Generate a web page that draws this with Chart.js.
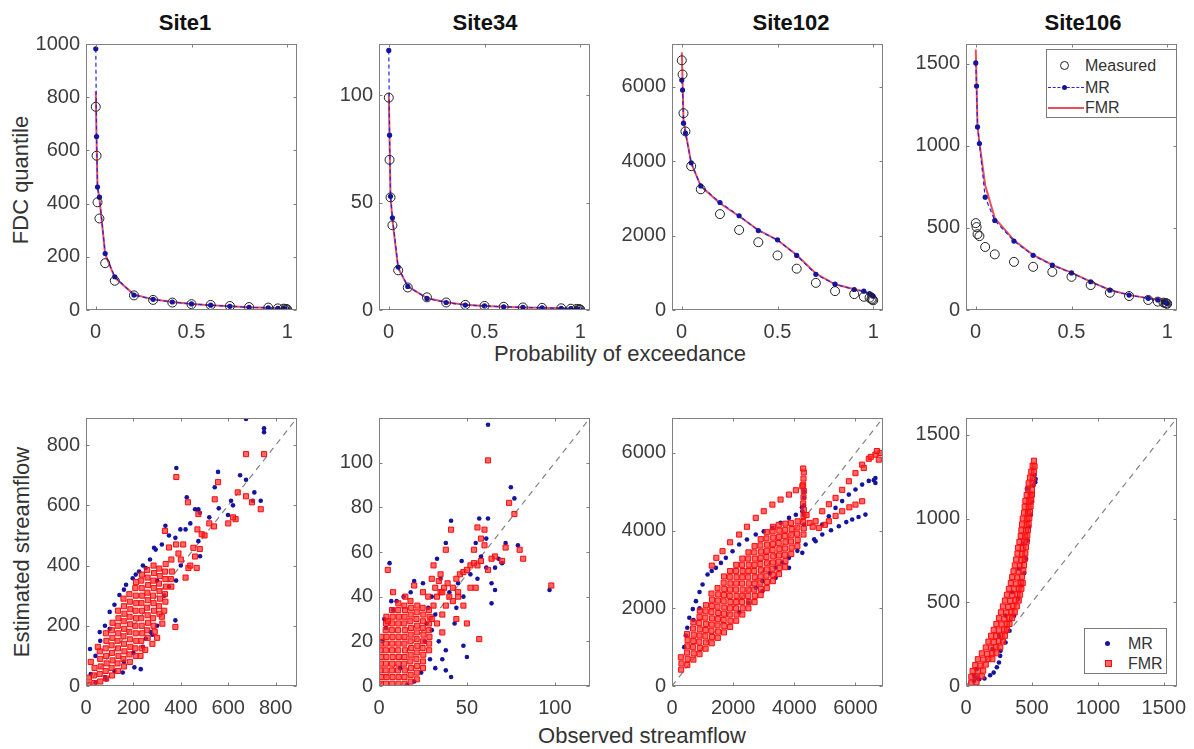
<!DOCTYPE html>
<html>
<head>
<meta charset="utf-8">
<script src="https://cdn.jsdelivr.net/npm/chart.js@4.4.0/dist/chart.umd.min.js"></script>
<style>
  body { margin: 0; width: 1194px; height: 749px; background: #fff; position: relative; overflow: hidden;
         font-family: "Liberation Sans", Arial, sans-serif; }
  canvas { position: absolute; }
  .title { position: absolute; top: 12px; font-size: 22px; line-height: 1; font-weight: bold; color: #111;
           transform: translateX(-50%); white-space: nowrap; }
  .xlab { position: absolute; font-size: 22px; line-height: 1; color: #333; transform: translateX(-50%); white-space: nowrap; }
  .ylab { position: absolute; font-size: 22px; line-height: 1; color: #333; white-space: nowrap;
          transform: translate(-50%, -50%) rotate(-90deg); }
  .legend { position: absolute; border: 1px solid #7a7a7a; background: #fff; box-sizing: border-box; }
  .legend span { position: absolute; }
  .legend .txt { font-size: 16px; line-height: 1; color: #333; }
</style>
</head>
<body>
<div class="title" style="left:185px">Site1</div>
<div class="title" style="left:485px">Site34</div>
<div class="title" style="left:791px">Site102</div>
<div class="title" style="left:1083px">Site106</div>
<div class="ylab" style="left:21px;top:180px">FDC quantile</div>
<div class="ylab" style="left:22px;top:552px">Estimated streamflow</div>
<div class="xlab" style="left:620px;top:343px">Probability of exceedance</div>
<div class="xlab" style="left:642px;top:725px">Observed streamflow</div>

<script>
// ---- FDC quantiles (top row) ----
const probs = [0.001, 0.005, 0.01, 0.02, 0.05, 0.1, 0.2, 0.3, 0.4, 0.5, 0.6, 0.7, 0.8, 0.9, 0.95, 0.98, 0.99, 0.995, 0.999];

const site1Measured = [764, 580, 405, 344, 176, 110, 55, 38, 28, 22, 19, 15, 11, 9, 6, 5, 4, 3, 2];
const site1MR = [982, 652, 462, 424, 212, 125, 56, 40, 30, 23, 18, 14, 10, 8, 6, 5, 4, 3, 2];
const site1FMR = [822, 640, 460, 420, 210, 122, 58, 40, 30, 23, 18, 14, 10, 8, 6, 5, 4, 3, 2];

const site34Measured = [99, 70, 52.5, 39.5, 18.5, 10.5, 5.9, 3.5, 2.4, 1.9, 1.5, 1.2, 1.0, 0.8, 0.6, 0.5, 0.4, 0.3, 0.2];
const site34MR = [121, 81.5, 53, 43, 20, 11, 5.4, 3.5, 2.3, 1.9, 1.5, 1.2, 1.0, 0.8, 0.6, 0.5, 0.4, 0.3, 0.2];
const site34FMR = [101, 80, 53, 42, 19.5, 11, 5.6, 3.6, 2.4, 1.9, 1.5, 1.2, 1.0, 0.8, 0.6, 0.5, 0.4, 0.3, 0.2];

const site102Measured = [6712, 6330, 5290, 4800, 3867, 3245, 2578, 2151, 1822, 1467, 1111, 729, 507, 427, 356, 330, 300, 280, 260];
const site102MR = [6180, 5912, 5023, 4756, 3956, 3334, 2889, 2533, 2134, 1885, 1467, 960, 693, 551, 507, 440, 410, 390, 370];
const site102FMR = [6930, 6200, 5100, 4800, 3950, 3330, 2870, 2520, 2150, 1880, 1480, 980, 690, 560, 500, 440, 410, 390, 370];

const site106Measured = [529, 505, 462, 450, 384, 339, 293, 263, 232, 202, 152, 105, 85, 61, 51, 45, 42, 40, 38];
const site106MR = [1505, 1364, 1115, 1014, 687, 545, 420, 333, 273, 226, 172, 121, 91, 71, 61, 51, 45, 42, 40];
const site106FMR = [1586, 1380, 1120, 1020, 760, 560, 425, 335, 275, 228, 173, 122, 92, 72, 62, 52, 45, 42, 40];

const probTicks = [0, 0.5, 1];
const site1QTicks = [0, 200, 400, 600, 800, 1000];
const site34QTicks = [0, 50, 100];
const site102QTicks = [0, 2000, 4000, 6000];
const site106QTicks = [0, 500, 1000, 1500];

// ---- observed vs estimated streamflow (bottom row), [observed, estimated] ----
const site1ScatterMR = [
  [675,887],[751,856],[751,843],[675,685],[381,724],[557,711],[543,660],[612,615],[710,643],[703,615],[737,615],
  [599,568],[425,627],[460,587],[474,587],[335,532],[398,520],[377,492],[287,459],[474,481],[481,431],[377,218],
  [252,157],[273,179],[155,45],[204,62],[231,56],[17,123],[58,179],[100,190],[86,22],[100,246],[141,302],[197,358],
  [224,380],[252,392],[294,453],[169,336],[120,270],[160,320],[210,370],[240,400],[270,420],[320,470],[350,500],
  [420,520],[440,540],[480,575],[520,560],[620,600],[560,590],[650,700],[300,350],[330,300],[350,330],[380,350],
  [400,400],[300,200],[280,170],[240,130],[200,110],[160,80],[120,50],[80,30],[40,12],[20,40],[40,100],[60,150],[80,200]
];
const site1ScatterFMR = [
  [10,5],[12,28],[35,10],[33,35],[36,60],[60,15],[58,40],[62,65],[60,90],[58,115],
  [85,25],[83,50],[87,75],[85,100],[83,125],[86,150],[84,175],
  [110,35],[108,60],[112,85],[110,110],[108,135],[111,160],[109,185],[112,210],
  [135,50],[133,75],[137,100],[135,125],[133,150],[136,175],[134,200],[137,225],[135,250],
  [160,65],[158,90],[162,115],[160,140],[158,165],[161,190],[159,215],[162,240],[160,265],[158,290],
  [185,80],[183,105],[187,130],[185,155],[183,180],[186,205],[184,230],[187,255],[185,280],[183,305],
  [210,100],[208,125],[212,150],[210,175],[208,200],[211,225],[209,250],[212,275],[210,300],[208,325],[211,345],
  [235,125],[233,150],[237,175],[235,200],[233,225],[236,250],[234,275],[237,300],[235,325],[233,350],[236,370],
  [260,160],[258,185],[262,210],[260,235],[258,260],[261,285],[259,310],[262,335],[260,360],[258,385],
  [285,200],[283,225],[287,250],[285,275],[283,300],[286,325],[284,350],[287,375],[285,400],
  [310,240],[308,265],[312,290],[310,315],[308,340],[311,365],[309,390],
  [335,280],[333,305],[337,330],[335,355],[333,380],[336,405],[360,330],[358,355],[362,380],
  [381,694],[675,770],[751,770],[640,643],[675,630],[737,587],[631,554],[430,610],[474,571],[333,515],[488,504],
  [453,459],[432,392],[467,392],[377,196],[322,207],[557,677],[543,620],[600,540],[520,540],[470,520],[410,470],
  [390,440],[360,420],[420,360],[300,160],[250,120],[230,100],[280,140],[20,80],[50,130],[540,530],[620,560],
  [700,610],[480,455],[500,500],[350,460],[380,470],[400,420],[440,400],[460,430],[330,250],[320,230],[290,180]
];

const site34ScatterMR = [
  [62,117],[75,89],[77,84],[41,74],[57,75],[62,75],[61,66],[38,64],[55,64],[72,64],[79,63],[61,53],[68,57],[70,55],
  [66,53],[97,43],[64,37],[66,43],[50,13],[48,18],[41,4],[38,7],[38,16],[6,55],[7,38],[3,30],[33,57],[20,47],[25,46],
  [45,46],[35,48],[30,40],[28,35],[32,32],[40,42],[44,35],[48,40],[52,50],[26,20],[29,12],[24,6],[20,2],[16,0.5],
  [12,8],[30,25],[34,20],[27,28],[8,34],[4,26],[2,20],[10,38],[14,40],[18,42],[43,28],[36,12],[32,8],[58,58],
  [56,48],[64,46],[47,56]
];
const site34ScatterFMR = [
  [1,1],[1.2,4],[0.8,7],[1,10],[1.3,13],[0.9,16],[1,19],[1.2,22],
  [4,1],[4.3,4],[3.8,7],[4,10],[4.2,13],[3.9,16],[4,19],[4.3,22],[3.8,25],[4,28],[4.2,31],
  [7.5,1],[7.7,4],[7.3,7],[7.5,10],[7.8,13],[7.4,16],[7.5,19],[7.7,22],[7.3,25],[7.5,28],[7.8,31],[7.4,34],
  [11,1],[11.2,4],[10.8,7],[11,10],[11.3,13],[10.9,16],[11,19],[11.2,22],[10.8,25],[11,28],[11.3,31],[10.9,34],[11,37],
  [14.5,1],[14.5,4],[14.7,7],[14.3,10],[14.5,13],[14.8,16],[14.4,19],[14.5,22],[14.7,25],[14.3,28],[14.5,31],[14.8,34],[14.4,36],
  [18,2],[18,5],[18.2,8],[17.8,11],[18,14],[18.3,17],[17.9,20],[18,23],[18.2,26],[17.8,29],[18,32],[18.3,35],[17.9,38],
  [21.5,3],[21.5,6],[21.7,9],[21.3,12],[21.5,15],[21.8,18],[21.4,21],[21.5,24],[21.7,27],[21.3,30],[21.5,33],[21.8,36],
  [25,8],[25,11],[25.2,14],[24.8,17],[25,20],[25.3,23],[24.9,26],[25,29],[25.2,32],[24.8,35],
  [28.5,16],[28.5,19],[28.7,22],[28.3,25],[28.5,28],[28.8,31],[28.4,34],
  [31,36],[33,40],[35,42],[37,44],[39,46],[42,44],[44,48],[46,50],[48,51],[50,52],[52,54],[54,55],[56,54],[58,56],
  [32,44],[34,47],[36,42],[40,40],[45,42],[30,30],[33,28],[36,32],[38,36],[42,38],[30,48],[28,40],
  [62,101],[74,82],[77,77],[41,70],[56,71],[60,70],[58,66],[60,63],[38,61],[54,61],[72,62],[80,61],[82,57],[66,58],
  [98,45],[57,21],[5,52],[5,29],[31,54],[20,45],[35,50],[45,40],[48,36],[52,44],[62,52],[64,57],[70,56],[55,44],
  [25,42],[15,40],[8,42],[50,28],[44,30],[36,24]
];

const site102ScatterMR = [
  [565,1757],[680,1980],[783,2185],[900,2420],[1000,2614],[1163,2871],[1300,2960],[1435,3042],[1600,3170],[1761,3300],
  [1980,3470],[2196,3642],[2450,3770],[2739,3899],[3000,3980],[3283,4070],[3550,4200],[3826,4328],[4050,4410],[4261,4499],
  [4913,4156],[5130,4370],[5348,4585],[5565,4760],[5783,4928],[6000,5060],[6218,5185],[6435,5280],[6652,5356],[6652,5228],[6600,5300],
  [2739,2528],[2957,2700],[3200,2900],[3391,3050],[3600,3180],[3826,3300],[4100,3480],[4370,3642],[4650,3780],[4913,3899],
  [5200,4010],[5457,4113],[5700,4220],[5892,4285],[6100,4350],[6326,4413],
  [2957,2442],[3391,2785],[3826,3042],[4261,3428],[4696,3728],[2500,2150],[2200,1900],
  [4315,4156],[4315,4400],[4315,4650],[4315,4850],[4315,5013],[4250,4600],
  [400,1000],[450,1300],[500,1500],[700,1700],[900,2000]
];
const site102ScatterFMR = [
  [300,420],[310,580],[290,740],
  [500,540],[510,700],[490,860],[500,1020],[510,1180],[490,1340],
  [700,680],[710,840],[690,1000],[700,1160],[710,1320],[690,1480],[700,1640],
  [900,820],[910,980],[890,1140],[900,1300],[910,1460],[890,1620],[900,1780],[910,1940],
  [1100,960],[1110,1120],[1090,1280],[1100,1440],[1110,1600],[1090,1760],[1100,1920],[1110,2080],
  [1300,1100],[1310,1260],[1290,1420],[1300,1580],[1310,1740],[1290,1900],[1300,2060],[1310,2220],[1290,2380],
  [1500,1240],[1510,1400],[1490,1560],[1500,1720],[1510,1880],[1490,2040],[1500,2200],[1510,2360],[1490,2520],
  [1700,1380],[1710,1540],[1690,1700],[1700,1860],[1710,2020],[1690,2180],[1700,2340],[1710,2500],[1690,2660],[1700,2820],
  [1900,1520],[1910,1680],[1890,1840],[1900,2000],[1910,2160],[1890,2320],[1900,2480],[1910,2640],[1890,2800],[1900,2960],
  [2100,1680],[2110,1840],[2090,2000],[2100,2160],[2110,2320],[2090,2480],[2100,2640],[2110,2800],[2090,2960],[2100,3120],
  [2300,1840],[2310,2000],[2290,2160],[2300,2320],[2310,2480],[2290,2640],[2300,2800],[2310,2960],[2290,3120],[2300,3280],
  [2500,2000],[2510,2160],[2490,2320],[2500,2480],[2510,2640],[2490,2800],[2500,2960],[2510,3120],[2490,3280],[2500,3440],
  [2700,2160],[2710,2320],[2690,2480],[2700,2640],[2710,2800],[2690,2960],[2700,3120],[2710,3280],[2690,3440],[2700,3600],
  [2900,2340],[2910,2500],[2890,2660],[2900,2820],[2910,2980],[2890,3140],[2900,3300],[2910,3460],[2890,3620],[2900,3780],
  [3100,2520],[3110,2680],[3090,2840],[3100,3000],[3110,3160],[3090,3320],[3100,3480],[3110,3640],[3090,3800],[3100,3960],
  [3300,2700],[3310,2860],[3290,3020],[3300,3180],[3310,3340],[3290,3500],[3300,3660],[3310,3820],[3290,3980],[3300,4100],
  [3500,2880],[3510,3040],[3490,3200],[3500,3360],[3510,3520],[3490,3680],[3500,3840],[3510,4000],[3490,4150],
  [3700,3060],[3710,3220],[3690,3380],[3700,3540],[3710,3700],[3690,3860],[3700,4020],[3710,4180],
  [3900,3400],[3910,3560],[3890,3720],[3900,3880],[3910,4040],[3890,4200],
  [4100,3600],[4110,3760],[4090,3920],[4100,4080],[4110,4240],
  [4300,3900],[4310,4060],[4290,4220],[4300,4380],[4310,4540],[4290,4700],[4300,4860],[4310,5020],[4290,5180],
  [4300,5340],[4310,5500],[4290,5600],
  [1300,3100],[1450,3300],[1652,3471],[1900,3700],[2196,3899],[2450,4100],[2739,4328],[3000,4500],[3283,4671],
  [3550,4800],[3826,4928],[4050,5040],[4261,5142],
  [4696,4242],[4913,4499],[5130,4680],[5348,4842],[5565,5050],[5783,5271],[6000,5480],[6218,5699],[6435,5850],
  [6652,5956],[6815,5999],[6761,5828],[6272,5613],[6500,5900],[6700,6050],
  [4804,4071],[5000,4150],[5130,4242],[5350,4380],[5565,4499],[5800,4600],[6000,4671],[6218,4756],
  [4500,4200],[4600,4100],[4400,4400]
];

const site106ScatterMR = [
  [100,40],[140,45],[183,64],[210,80],[234,112],[250,140],[259,180],[262,210],[60,30],[80,50],
  [300,260],[330,330],[365,420],[395,520],[420,600],[442,674],[456,760],[468,868],[480,950],[492,1023],
  [500,1100],[512,1198],[528,1236],[462,1178],[487,1149],[525,1217],[520,1260],
  [200,220],[250,300],[300,420],[350,560],[400,700],[430,850],[60,60],[80,100]
];
const site106ScatterFMR = [
  [40,20],[80,22],[40,55],[80,52],[120,58],[50,90],[90,88],[130,92],[70,125],[110,122],[150,128],
  [90,160],[130,158],[170,162],[200,160],[120,195],[160,192],[200,198],[230,195],
  [150,230],[190,228],[230,232],[260,230],[170,265],[210,262],[250,268],[280,265],
  [190,300],[230,298],[270,302],[295,300],[210,335],[250,332],[290,338],[310,335],
  [230,370],[270,368],[310,372],[330,370],[250,405],[290,402],[330,408],[350,405],
  [265,440],[305,438],[345,442],[370,440],[280,475],[320,472],[360,478],[385,475],
  [295,510],[335,508],[375,512],[400,510],[310,545],[350,542],[390,548],[410,545],
  [325,580],[365,578],[400,582],[420,580],[340,615],[380,612],[415,618],[430,615],
  [350,650],[390,648],[425,652],[360,685],[400,682],[435,688],[370,720],[410,718],[440,722],
  [380,755],[420,752],[445,758],[390,790],[425,788],[450,792],[395,825],[430,822],[455,828],
  [405,860],[440,858],[460,862],[415,895],[450,892],[465,898],[420,930],[455,928],[470,932],
  [425,965],[460,962],[475,968],[430,1000],[465,998],[480,1002],[440,1035],[470,1032],[485,1038],
  [445,1070],[475,1068],[490,1072],[450,1105],[480,1102],[495,1108],[460,1140],[490,1138],[500,1142],
  [470,1175],[500,1172],[475,1210],[505,1208],[485,1245],[510,1242],[495,1280],[515,1278],
  [505,1315],[520,1312],[515,1345]
];

const site1FlowTicks = [0, 200, 400, 600, 800];
const site34FlowXTicks = [0, 50, 100];
const site34FlowYTicks = [0, 20, 40, 60, 80, 100];
const site102FlowTicks = [0, 2000, 4000, 6000];
const site106FlowTicks = [0, 500, 1000, 1500];

// ---- layout / styling ----
const FONT = '"Liberation Sans", Arial, sans-serif';
const TICK_COLOR = '#3c3c3c';
const BOX_COLOR = '#7f7f7f';
const MR_LINE = 'rgb(35,35,235)';
const MR_DOT = 'rgb(20,20,160)';
const FMR_LINE = 'rgb(238,78,88)';
const FMR_SQ = 'rgb(255,10,10)';
const FMR_FILL = 'rgba(255,40,40,0.7)';
const PLOT_LEFT = [86, 379, 672, 966];
const PLOT_W = 211;
const TOP_ROW = [42, 310];
const BOTTOM_ROW = [416, 686];
const Y_W = 70, X_H = 44, PAD_T = 16, PAD_R = 26;

// MATLAB-like box with inward ticks
const axesBox = {
  id: 'axesBox',
  afterDatasetsDraw(chart) {
    const { ctx, chartArea: a, scales } = chart;
    const l = Math.round(a.left) + 0.5, r = Math.round(a.right) - 0.5;
    const t = Math.round(a.top) + 0.5, b = Math.round(a.bottom) - 0.5;
    ctx.save();
    ctx.strokeStyle = BOX_COLOR;
    ctx.lineWidth = 1;
    ctx.strokeRect(l, t, r - l, b - t);
    ctx.beginPath();
    scales.x.ticks.forEach(tk => {
      const px = Math.round(scales.x.getPixelForValue(tk.value)) + 0.5;
      ctx.moveTo(px, b); ctx.lineTo(px, b - 3);
      ctx.moveTo(px, t); ctx.lineTo(px, t + 3);
    });
    scales.y.ticks.forEach(tk => {
      const py = Math.round(scales.y.getPixelForValue(tk.value)) + 0.5;
      ctx.moveTo(l, py); ctx.lineTo(l + 3, py);
      ctx.moveTo(r, py); ctx.lineTo(r - 3, py);
    });
    ctx.stroke();
    ctx.restore();
  }
};

function makeCanvas(left, row) {
  const c = document.createElement('canvas');
  const h = row[1] - row[0];
  c.width = PLOT_W + Y_W + PAD_R;
  c.height = h + PAD_T + X_H;
  c.style.left = (left - Y_W) + 'px';
  c.style.top = (row[0] - PAD_T) + 'px';
  document.body.appendChild(c);
  return c;
}

function axis(min, max, ticks, isX) {
  return {
    type: 'linear', min: min, max: max,
    grid: { display: false, drawTicks: false },
    border: { display: false },
    ticks: {
      autoSkip: false, maxRotation: 0, padding: isX ? 10 : 6,
      color: TICK_COLOR, font: { family: FONT, size: 20 },
      callback: v => String(v)
    },
    afterBuildTicks: s => { s.ticks = ticks.map(v => ({ value: v })); },
    afterFit: s => { if (isX) s.height = X_H; else s.width = Y_W; }
  };
}

function baseOptions(xAxis, yAxis) {
  return {
    responsive: false, animation: false, events: [],
    layout: { padding: { top: PAD_T, right: PAD_R, left: 0, bottom: 0 } },
    plugins: { legend: { display: false }, tooltip: { enabled: false } },
    scales: { x: xAxis, y: yAxis }
  };
}

const onProbs = vals => vals.map((v, i) => ({ x: probs[i], y: v }));
const asPoints = arr => arr.map(p => ({ x: p[0], y: p[1] }));

// top row: flow duration curves
function fdcChart(col, yMax, yTicks, measured, mr, fmr) {
  new Chart(makeCanvas(PLOT_LEFT[col], TOP_ROW), {
    type: 'scatter',
    data: {
      datasets: [
        { data: onProbs(measured), showLine: false, pointStyle: 'circle', pointRadius: 4.5,
          pointBorderWidth: 1, pointBorderColor: '#222', pointBackgroundColor: 'rgba(0,0,0,0)' },
        { data: onProbs(mr), showLine: true, borderColor: MR_LINE, borderWidth: 1.2, borderDash: [4, 3],
          pointRadius: 2.6, pointBorderWidth: 0, pointBackgroundColor: MR_DOT },
        { data: onProbs(fmr), showLine: true, borderColor: FMR_LINE, borderWidth: 2, pointRadius: 0 }
      ]
    },
    options: baseOptions(axis(-0.05, 1.05, probTicks, true), axis(0, yMax, yTicks, false)),
    plugins: [axesBox]
  });
}

// bottom row: observed vs estimated
function flowChart(col, max, xTicks, yTicks, mr, fmr) {
  new Chart(makeCanvas(PLOT_LEFT[col], BOTTOM_ROW), {
    type: 'scatter',
    data: {
      datasets: [
        { data: asPoints(fmr), pointStyle: 'rect', pointRadius: 3.6, pointBorderWidth: 1,
          pointBorderColor: FMR_SQ, pointBackgroundColor: FMR_FILL },
        { data: asPoints(mr), pointStyle: 'circle', pointRadius: 2.3, pointBorderWidth: 0,
          pointBackgroundColor: MR_DOT },
        { data: [{ x: 0, y: 0 }, { x: max, y: max }], showLine: true, borderColor: '#808080',
          borderWidth: 1.2, borderDash: [6, 5], pointRadius: 0 }
      ]
    },
    options: baseOptions(axis(0, max, xTicks, true), axis(0, max, yTicks, false)),
    plugins: [axesBox]
  });
}

fdcChart(0, 1000, site1QTicks, site1Measured, site1MR, site1FMR);
fdcChart(1, 124, site34QTicks, site34Measured, site34MR, site34FMR);
fdcChart(2, 7150, site102QTicks, site102Measured, site102MR, site102FMR);
fdcChart(3, 1620, site106QTicks, site106Measured, site106MR, site106FMR);

flowChart(0, 890, site1FlowTicks, site1FlowTicks, site1ScatterMR, site1ScatterFMR);
flowChart(1, 120, site34FlowXTicks, site34FlowYTicks, site34ScatterMR, site34ScatterFMR);
flowChart(2, 6900, site102FlowTicks, site102FlowTicks, site102ScatterMR, site102ScatterFMR);
flowChart(3, 1600, site106FlowTicks, site106FlowTicks, site106ScatterMR, site106ScatterFMR);
</script>

<div class="legend" style="left:1046px;top:49px;width:131px;height:69px">
  <span style="left:13px;top:11px;width:9px;height:9px;border:1px solid #222;border-radius:50%;box-sizing:border-box"></span>
  <span class="txt" style="left:38px;top:8px">Measured</span>
  <span style="left:1px;top:37px;width:36px;border-top:1.5px dashed rgb(35,35,235)"></span>
  <span style="left:15px;top:35px;width:5px;height:5px;border-radius:50%;background:rgb(20,20,160)"></span>
  <span class="txt" style="left:38px;top:30px">MR</span>
  <span style="left:1px;top:57px;width:36px;border-top:2px solid rgb(238,78,88)"></span>
  <span class="txt" style="left:38px;top:50px">FMR</span>
</div>
<div class="legend" style="left:1084px;top:628px;width:83px;height:46px">
  <span style="left:20px;top:12px;width:5px;height:5px;border-radius:50%;background:rgb(20,20,160)"></span>
  <span class="txt" style="left:43px;top:7px">MR</span>
  <span style="left:20px;top:31px;width:5px;height:5px;border:1px solid rgb(255,10,10);background:rgba(255,40,40,0.7)"></span>
  <span class="txt" style="left:43px;top:27px">FMR</span>
</div>
</body>
</html>
